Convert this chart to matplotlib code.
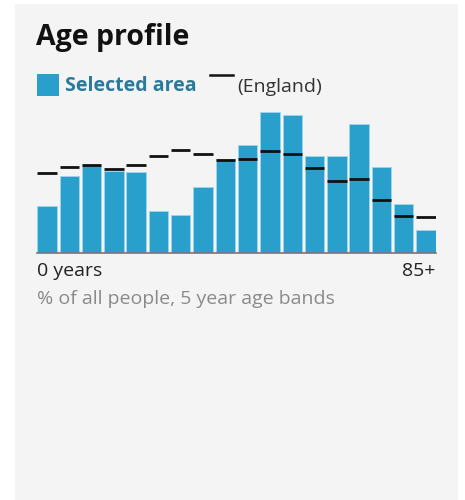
import matplotlib
matplotlib.use("Agg")
import matplotlib.pyplot as plt
from matplotlib.patches import Rectangle
from matplotlib.lines import Line2D
import numpy as np

# 5-year age bands, 0-4 ... 85+
age_bands = ["0-4", "5-9", "10-14", "15-19", "20-24", "25-29", "30-34", "35-39",
             "40-44", "45-49", "50-54", "55-59", "60-64", "65-69", "70-74",
             "75-79", "80-84", "85+"]
# % of all people in the selected area
selected_pct = [3.2, 5.2, 6.0, 5.55, 5.5, 2.85, 2.55, 4.45, 6.35, 7.3,
                9.6, 9.4, 6.6, 6.6, 8.75, 5.8, 3.3, 1.55]
# % of all people in England
england_pct = [5.4, 5.85, 6.0, 5.7, 6.0, 6.6, 7.0, 6.7, 6.3, 6.4,
               6.9, 6.7, 5.75, 4.9, 5.0, 3.6, 2.5, 2.4]

W, H = 465, 500
DPI = 100
plt.rcParams["font.family"] = ["Open Sans", "DejaVu Sans"]

fig = plt.figure(figsize=(W / DPI, H / DPI), dpi=DPI)
fig.patch.set_facecolor("white")

def fx(px):
    return px / W

def fy(py):
    return 1 - py / H

# card background
fig.patches.append(Rectangle((fx(15), 0), fx(458) - fx(15), fy(4),
                             transform=fig.transFigure, facecolor="#f4f4f4",
                             edgecolor="none", zorder=-5))

bar_color = "#29a0cc"

# title
fig.text(fx(36), fy(37), "Age profile", fontsize=20.5, fontweight="bold",
         color="#111111", va="center", ha="left")

# legend
fig.patches.append(Rectangle((fx(37), fy(96)), fx(22), 22 / H,
                             transform=fig.transFigure, facecolor=bar_color,
                             edgecolor="none", zorder=2))
fig.text(fx(65), fy(86), "Selected area", fontsize=14, fontweight="bold",
         color="#2a7b9b", va="center", ha="left")
fig.lines.append(Line2D([fx(210), fx(233)], [fy(75), fy(75)],
                        transform=fig.transFigure, color="#111111", lw=1.8))
fig.text(fx(237), fy(87), "(England)", fontsize=14, color="#333333",
         va="center", ha="left")

# chart
ax_left, ax_right, ax_bottom, ax_top = 37.3, 435.7, 252.7, 105.7
ax = fig.add_axes([fx(ax_left), fy(ax_bottom), fx(ax_right - ax_left),
                   (ax_bottom - ax_top) / H])
ax.set_facecolor("none")
n = len(age_bands)
x = np.arange(n)
width = 0.87
ax.bar(x, selected_pct, width=width, color=bar_color, edgecolor="#9fd6ec",
       linewidth=0.6, zorder=2)
ax.hlines(england_pct, x - width / 2, x + width / 2, colors="#111111",
          linewidth=2.0, zorder=3)
ax.set_xlim(-width / 2 - 0.0, n - 1 + width / 2)
ax.set_ylim(0, 10.0)
for s in ["top", "right", "left"]:
    ax.spines[s].set_visible(False)
ax.spines["bottom"].set_color("#777777")
ax.spines["bottom"].set_linewidth(1.2)
ax.set_xticks([])
ax.set_yticks([])

fig.text(fx(37), fy(271), "0 years", fontsize=14, color="#222222",
         va="center", ha="left")
fig.text(fx(435.5), fy(271), "85+", fontsize=14, color="#222222",
         va="center", ha="right")
fig.text(fx(37), fy(299), "% of all people, 5 year age bands", fontsize=14,
         color="#8a8a8a", va="center", ha="left")

fig.savefig("out.png", dpi=DPI, facecolor=fig.get_facecolor())
